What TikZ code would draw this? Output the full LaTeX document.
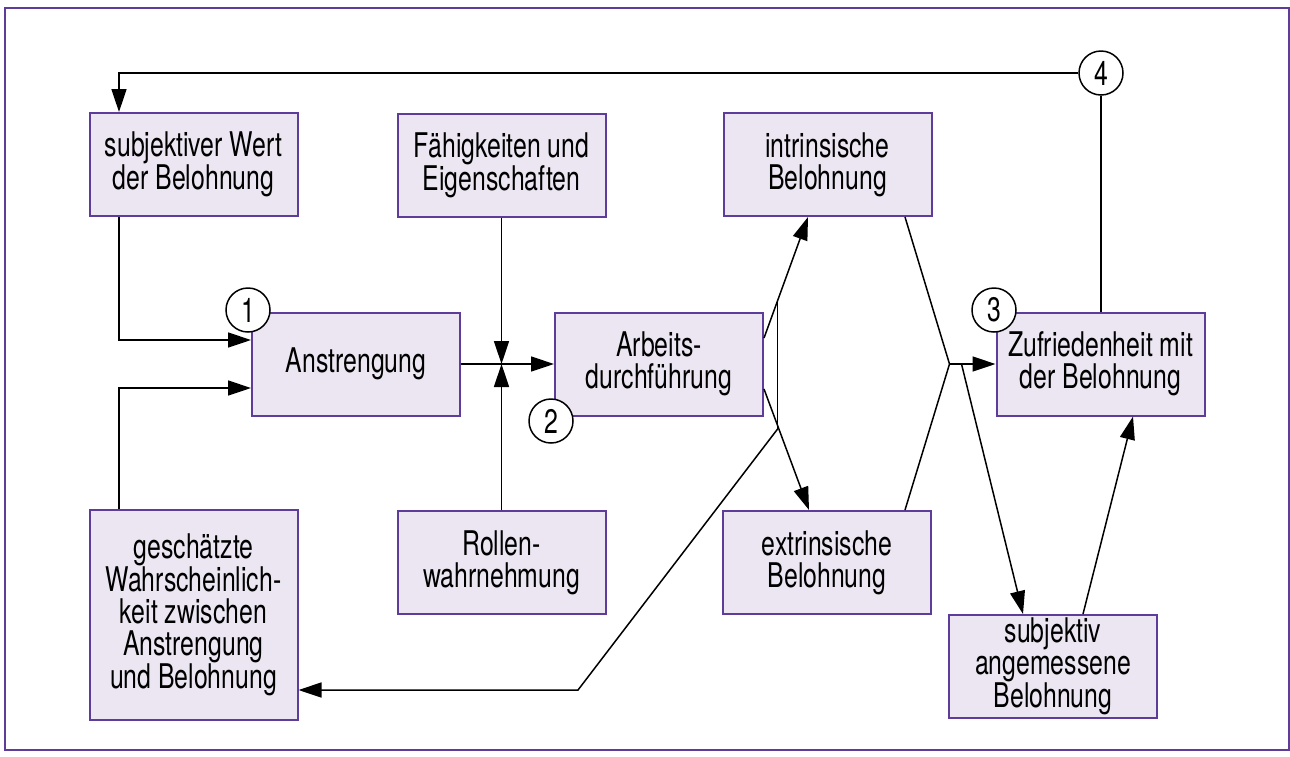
\documentclass[tikz,border=0pt]{standalone}
\usepackage{fontspec}
\setmainfont[FakeStretch=0.73]{TeX Gyre Heros}
\usetikzlibrary{arrows.meta,calc}
\definecolor{boxfill}{HTML}{ECE6F2}
\definecolor{boxline}{HTML}{5E3C99}

\begin{document}
\begin{tikzpicture}[x=1pt,y=-1pt,
  box/.style={draw=boxline,line width=2pt,fill=boxfill,minimum width=208pt,
    minimum height=103pt,inner sep=0pt,align=center,
    font=\fontsize{34}{32}\selectfont},
  num/.style={circle,draw=black,line width=1.5pt,fill=white,minimum size=44pt,
    inner sep=0pt,font=\fontsize{34}{32}\selectfont},
  conn/.style={line width=1.5pt},
  arr/.style={conn,-{Triangle[length=23pt,width=15pt]}}]

\useasboundingbox (0,0) rectangle (1290,756);
\draw[boxline,line width=2pt] (4.5,7.5) rectangle (1288.5,750);

% boxes
\node[box] (subj)   at (193.5,164.5) {subjektiver Wert\\der Belohnung};
\node[box] (faeh)   at (501.5,165.5) {Fähigkeiten und\\Eigenschaften};
\node[box] (intr)   at (827.5,164.5) {intrinsische\\Belohnung};
\node[box] (anstr)  at (356,364)     {Anstrengung};
\node[box] (arbeit) at (659,364)     {Arbeits-\\durchführung};
\node[box] (zufr)   at (1100.5,364)  {Zufriedenheit mit\\der Belohnung};
\node[box,minimum height=210pt] (gesch) at (193.5,615)
  {geschätzte\\Wahrscheinlich-\\keit zwischen\\Anstrengung\\und Belohnung};
\node[box] (rollen) at (501.5,562.5) {Rollen-\\wahrnehmung};
\node[box] (extr)   at (827,562.5)   {extrinsische\\Belohnung};
\node[box] (subang) at (1053,666.5)  {subjektiv\\angemessene\\Belohnung};

% numbered markers
\node[num] (c1) at (248,310) {1};
\node[num] (c2) at (551,421) {2};
\node[num] (c3) at (994,310) {3};
\node[num] (c4) at (1101,73) {4};

% feedback from satisfaction to value of reward
\draw[arr] (c4.west) -| ([xshift=30.5pt]subj.north west);
\draw[conn] (c4.south) -- (c4.south |- zufr.north);

% inputs to effort
\draw[arr] ([xshift=30.5pt]subj.south west) |- ([yshift=24pt]anstr.west);
\draw[arr] ([xshift=30.5pt]gesch.north west) |- ([yshift=-24pt]anstr.west);

% effort to performance, with abilities and role perception
\coordinate (j1) at (faeh.south |- anstr.east);
\draw[arr] (anstr.east) -- (arbeit.west);
\draw[arr] (faeh.south) -- (j1);
\draw[arr] (rollen.north) -- (j1);

% performance to rewards
\coordinate (a1) at ([yshift=26pt]arbeit.east);
\coordinate (a2) at ([yshift=-25pt]arbeit.east);
\coordinate (i1) at ([xshift=-19.5pt]intr.south);
\coordinate (e1) at ([xshift=-18pt]extr.north);
\draw[arr] (a1) -- (i1);
\draw[arr] (a2) -- (e1);
\coordinate (bt) at ($(a1)!0.31!(i1)$);
\coordinate (bb) at ($(a2)!0.33!(e1)$);
\draw[conn] (bt) -- (bt |- bb);
\coordinate (k) at (578,690);
\draw[arr] (bt |- bb) -- (k) -- ([yshift=-75pt]gesch.east);

% rewards to satisfaction
\coordinate (i2) at ([xshift=77.5pt]intr.south);
\coordinate (e2) at ([xshift=78pt]extr.north);
\coordinate (j2) at ($(zufr.west)+(-46,0)$);
\draw[conn] (i2) -- (j2) -- (e2);
\draw[arr] (j2) -- (zufr.west);
\draw[arr] ($(j2)+(12,0)$) -- ([xshift=-30pt]subang.north);
\draw[arr] ([xshift=30pt]subang.north) -- ([xshift=32.5pt]zufr.south);

\end{tikzpicture}
\end{document}
